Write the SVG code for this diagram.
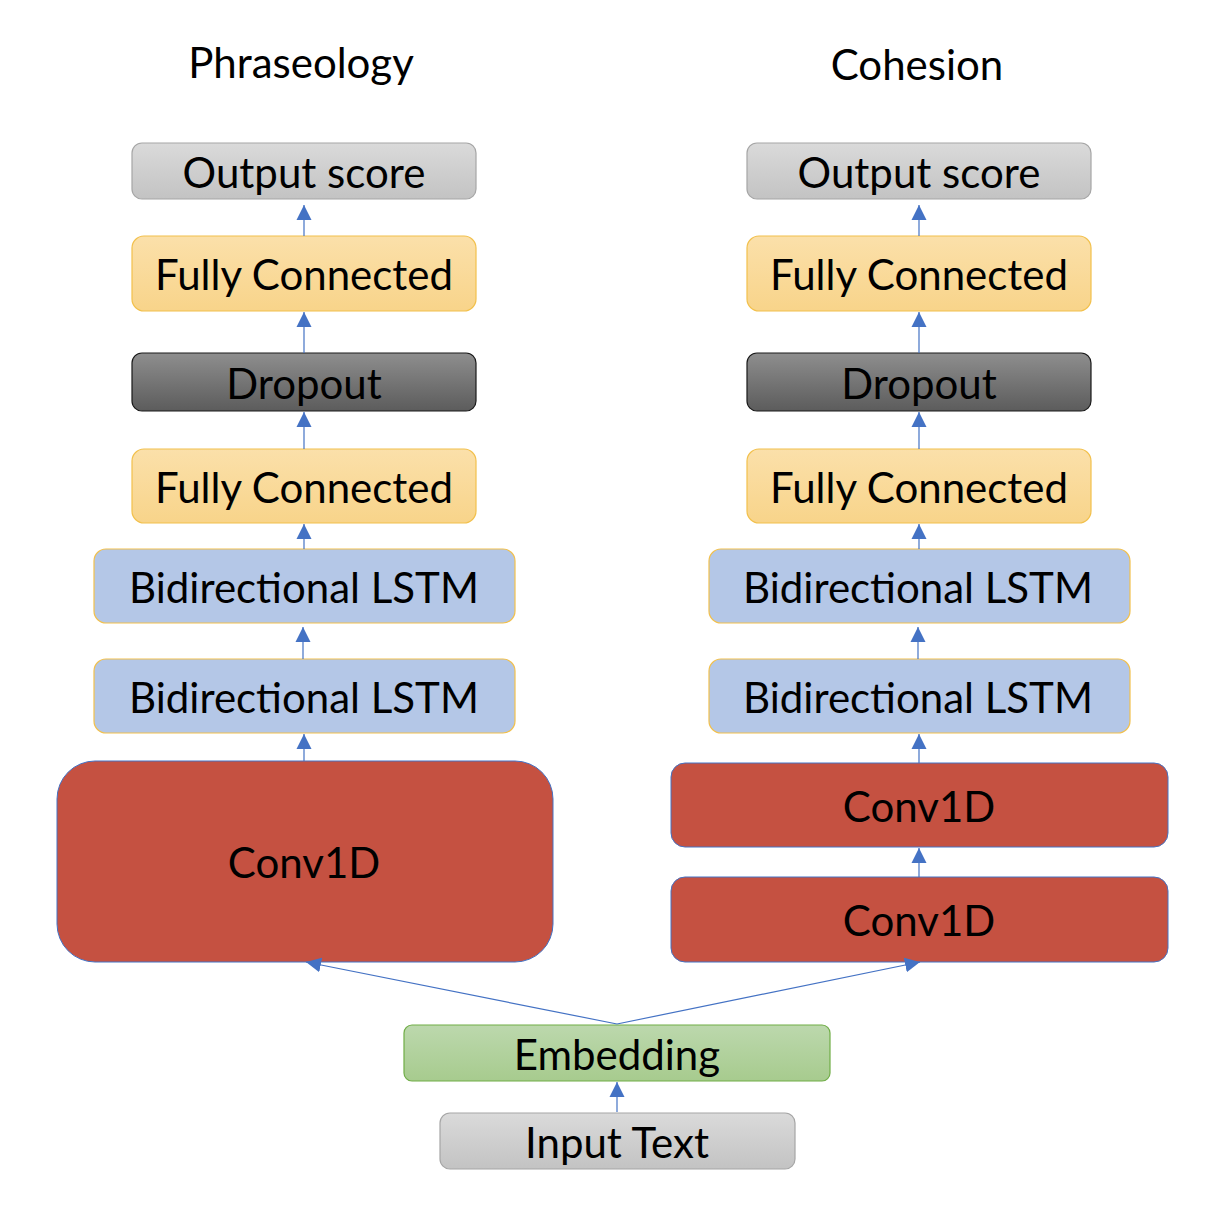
<svg xmlns="http://www.w3.org/2000/svg" width="1220" height="1206" viewBox="0 0 1220 1206">
<defs>
<linearGradient id="gGray" x1="0" y1="0" x2="0" y2="1"><stop offset="0" stop-color="#dadada"/><stop offset="1" stop-color="#c3c3c3"/></linearGradient>
<linearGradient id="gDark" x1="0" y1="0" x2="0" y2="1"><stop offset="0" stop-color="#8e8e8e"/><stop offset="1" stop-color="#5c5c5c"/></linearGradient>
<linearGradient id="gYellow" x1="0" y1="0" x2="0" y2="1"><stop offset="0" stop-color="#fbe0aa"/><stop offset="1" stop-color="#f8d48a"/></linearGradient>
<linearGradient id="gGreen" x1="0" y1="0" x2="0" y2="1"><stop offset="0" stop-color="#bcd8ad"/><stop offset="1" stop-color="#a7cb8e"/></linearGradient>
<marker id="ah" markerUnits="userSpaceOnUse" markerWidth="16" markerHeight="16" viewBox="0 0 16 16" refX="15" refY="8" orient="auto">
<path d="M0,0.5 L15,8 L0,15.5 z" fill="#4472c4"/>
</marker>
<style>
text{font-family:Lato,"Open Sans","Noto Sans",sans-serif;font-size:42px;fill:#000;text-anchor:middle;dominant-baseline:central}
.title{font-size:42px}
.gray{fill:url(#gGray);stroke:#a6a6a6;stroke-width:1.2}
.dark{fill:url(#gDark);stroke:#1a1a1a;stroke-width:1.2}
.fc{fill:url(#gYellow);stroke:#f2c04c;stroke-width:1.2}
.lstm{fill:#b4c7e7;stroke:#f2c04c;stroke-width:1.2}
.conv{fill:#c55141;stroke:#4472c4;stroke-width:1}
.emb{fill:url(#gGreen);stroke:#70ad47;stroke-width:1.2}
.c{stroke:#4472c4;stroke-width:1.2;fill:none;marker-end:url(#ah)}
</style>
</defs>
<text class="title" x="301" y="62">Phraseology</text>
<text class="title" x="917" y="64">Cohesion</text>

<g id="l-output"><rect class="gray" x="132" y="143" width="344" height="56" rx="10"/><text x="304" y="172">Output score</text></g>
<g id="l-fc1"><rect class="fc" x="132" y="236" width="344" height="75" rx="12"/><text x="304" y="274">Fully Connected</text></g>
<g id="l-dropout"><rect class="dark" x="132" y="353" width="344" height="58" rx="10"/><text x="304" y="383">Dropout</text></g>
<g id="l-fc2"><rect class="fc" x="132" y="449" width="344" height="74" rx="12"/><text x="304" y="487">Fully Connected</text></g>
<g id="l-lstm1"><rect class="lstm" x="94" y="549" width="421" height="74" rx="12"/><text x="304" y="587">Bidirectional LSTM</text></g>
<g id="l-lstm2"><rect class="lstm" x="94" y="659" width="421" height="74" rx="12"/><text x="304" y="697">Bidirectional LSTM</text></g>
<g id="l-conv"><rect class="conv" x="57" y="761" width="496" height="201" rx="38"/><text x="304" y="862">Conv1D</text></g>

<g id="r-output"><rect class="gray" x="747" y="143" width="344" height="56" rx="10"/><text x="919" y="172">Output score</text></g>
<g id="r-fc1"><rect class="fc" x="747" y="236" width="344" height="75" rx="12"/><text x="919" y="274">Fully Connected</text></g>
<g id="r-dropout"><rect class="dark" x="747" y="353" width="344" height="58" rx="10"/><text x="919" y="383">Dropout</text></g>
<g id="r-fc2"><rect class="fc" x="747" y="449" width="344" height="74" rx="12"/><text x="919" y="487">Fully Connected</text></g>
<g id="r-lstm1"><rect class="lstm" x="709" y="549" width="421" height="74" rx="12"/><text x="918" y="587">Bidirectional LSTM</text></g>
<g id="r-lstm2"><rect class="lstm" x="709" y="659" width="421" height="74" rx="12"/><text x="918" y="697">Bidirectional LSTM</text></g>
<g id="r-conv1"><rect class="conv" x="671" y="763" width="497" height="84" rx="14"/><text x="919" y="806">Conv1D</text></g>
<g id="r-conv2"><rect class="conv" x="671" y="877" width="497" height="85" rx="14"/><text x="919" y="920">Conv1D</text></g>

<g id="embedding"><rect class="emb" x="404" y="1025" width="426" height="56" rx="8"/><text x="617" y="1054">Embedding</text></g>
<g id="input"><rect class="gray" x="440" y="1113" width="355" height="56" rx="10"/><text x="617" y="1142">Input Text</text></g>

<g id="connectors">
<line class="c" x1="304" y1="236" x2="304" y2="205"/>
<line class="c" x1="304" y1="353" x2="304" y2="312"/>
<line class="c" x1="304" y1="449" x2="304" y2="412"/>
<line class="c" x1="304" y1="549" x2="304" y2="524"/>
<line class="c" x1="303" y1="659" x2="303" y2="627"/>
<line class="c" x1="304" y1="761" x2="304" y2="734"/>
<line class="c" x1="919" y1="236" x2="919" y2="205"/>
<line class="c" x1="919" y1="353" x2="919" y2="312"/>
<line class="c" x1="919" y1="449" x2="919" y2="412"/>
<line class="c" x1="919" y1="549" x2="919" y2="524"/>
<line class="c" x1="918" y1="659" x2="918" y2="627"/>
<line class="c" x1="919" y1="763" x2="919" y2="734"/>
<line class="c" x1="919" y1="877" x2="919" y2="848"/>
<line class="c" x1="617" y1="1024" x2="306" y2="962"/>
<line class="c" x1="617" y1="1024" x2="920" y2="962"/>
<line class="c" x1="617" y1="1112" x2="617" y2="1082"/>
</g>
</svg>
